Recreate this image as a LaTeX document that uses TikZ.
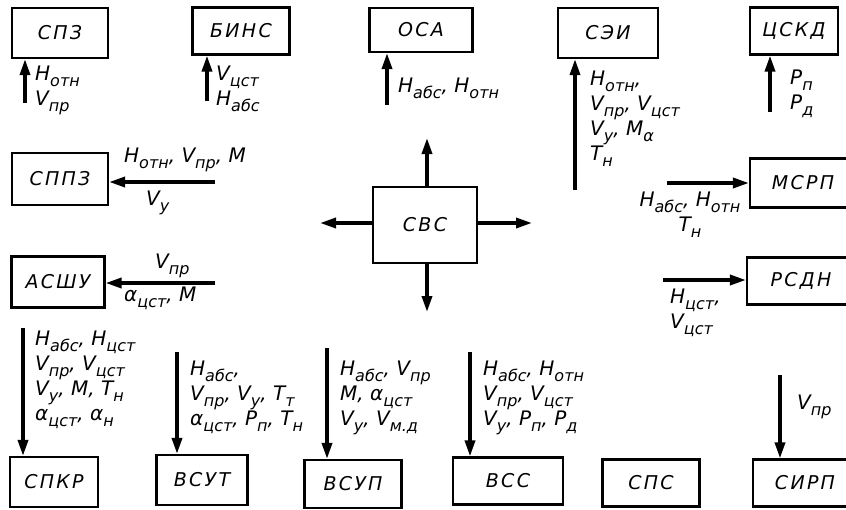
\documentclass[tikz,border=0pt]{standalone}
\usepackage{fontspec}
\setmainfont{DejaVu Sans}
\usetikzlibrary{arrows.meta,positioning}
\newcommand{\ix}[2]{#1\raisebox{-0.3em}{\fontsize{16}{16}\selectfont #2}}

\begin{document}
\begin{tikzpicture}[x=1pt,y=-1pt,
  unit/.style={draw,line width=2.2pt,inner sep=0pt,
    font=\fontsize{19}{22}\selectfont\itshape\addfontfeature{LetterSpace=12}},
  sig/.style={line width=3.4pt,-{Triangle[length=16pt,width=10pt]}},
  lbl/.style={align=left,anchor=north west,inner sep=0pt,
    font=\fontsize{20}{25}\selectfont\itshape}]

\useasboundingbox (0,0) rectangle (846,509);

% top row
\node[unit,minimum width=96,minimum height=50] (spz) at (60,33) {СПЗ};
\node[unit,minimum width=97,minimum height=47] (bins) at (241,31) {БИНС};
\node[unit,minimum width=103,minimum height=44] (osa) at (421,30) {ОСА};
\node[unit,minimum width=100,minimum height=50] (sei) at (608,33) {СЭИ};
\node[unit,minimum width=88,minimum height=47] (cskd) at (794,31) {ЦСКД};

% left and right
\node[unit,minimum width=96,minimum height=52] (sppz) at (60,179) {СППЗ};
\node[unit,minimum width=93,minimum height=51] (asshu) at (58,282) {АСШУ};
\node[unit,minimum width=106,minimum height=49] (msrp) at (803,183) {МСРП};
\node[unit,minimum width=108,minimum height=47] (rsdn) at (801,281) {РСДН};

% centre
\node[unit,minimum width=104,minimum height=76] (svs) at (425,225) {СВС};

% bottom row
\node[unit,minimum width=88,minimum height=50] (spkr) at (54,482) {СПКР};
\node[unit,minimum width=91,minimum height=50] (vsut) at (202,480) {ВСУТ};
\node[unit,minimum width=97,minimum height=48] (vsup) at (353,484) {ВСУП};
\node[unit,minimum width=110,minimum height=47] (vss) at (508,481) {ВСС};
\node[unit,minimum width=97,minimum height=47] (sps) at (651,483) {СПС};
\node[unit,minimum width=104,minimum height=47] (sirp) at (805,483) {СИРП};

% free ends
\coordinate (spz-src) at (25,103);
\coordinate (bins-src) at (207,101);
\coordinate (osa-src) at (387,105);
\coordinate (sei-src) at (575,190);
\coordinate (cskd-src) at (770,112);
\coordinate (sppz-src) at (215,182);
\coordinate (asshu-src) at (215,283);
\coordinate (msrp-src) at (667,183);
\coordinate (rsdn-src) at (663,280);
\coordinate (spkr-src) at (23,328);
\coordinate (vsut-src) at (177,352);
\coordinate (vsup-src) at (327,348);
\coordinate (vss-src) at (470,352);
\coordinate (sirp-src) at (780,375);
\coordinate (svs-up) at (427,138);
\coordinate (svs-down) at (427,312);
\coordinate (svs-left) at (320,223);
\coordinate (svs-right) at (532,223);

\draw[sig] (spz-src) -- (spz-src |- spz.south);
\draw[sig] (bins-src) -- (bins-src |- bins.south);
\draw[sig] (osa-src) -- (osa-src |- osa.south);
\draw[sig] (sei-src) -- (sei-src |- sei.south);
\draw[sig] (cskd-src) -- (cskd-src |- cskd.south);
\draw[sig] (sppz-src) -- (sppz-src -| sppz.east);
\draw[sig] (asshu-src) -- (asshu-src -| asshu.east);
\draw[sig] (msrp-src) -- (msrp-src -| msrp.west);
\draw[sig] (rsdn-src) -- (rsdn-src -| rsdn.west);
\draw[sig] (spkr-src) -- (spkr-src |- spkr.north);
\draw[sig] (vsut-src) -- (vsut-src |- vsut.north);
\draw[sig] (vsup-src) -- (vsup-src |- vsup.north);
\draw[sig] (vss-src) -- (vss-src |- vss.north);
\draw[sig] (sirp-src) -- (sirp-src |- sirp.north);
\draw[sig] (svs-up |- svs.north) -- (svs-up);
\draw[sig] (svs-down |- svs.south) -- (svs-down);
\draw[sig] (svs-left -| svs.west) -- (svs-left);
\draw[sig] (svs-right -| svs.east) -- (svs-right);

% signal labels
\node[lbl] (spz-l) at (35,66) {\ix{H}{отн}\\\ix{V}{пр}};
\node[lbl] (bins-l) at (216,66) {\ix{V}{цст}\\\ix{H}{абс}};
\node[lbl] (osa-l) at (398,78) {\ix{H}{абс}, \ix{H}{отн}};
\node[lbl] (sei-l) at (590,71) {\ix{H}{отн},\\\ix{V}{пр}, \ix{V}{цст}\\\ix{V}{y}, \ix{M}{α}\\\ix{T}{н}};
\node[lbl] (cskd-l) at (790,70) {\ix{P}{п}\\\ix{P}{д}};
\node[lbl] (sppz-a) at (124,148) {\ix{H}{отн}, \ix{V}{пр}, M};
\node[lbl] (sppz-b) at (146,191) {\ix{V}{y}};
\node[lbl] (asshu-a) at (155,254) {\ix{V}{пр}};
\node[lbl] (asshu-b) at (124,287) {\ix{α}{цст}, M};
\node[lbl,align=center,anchor=north] (msrp-l) at (690,192) {\ix{H}{абс}, \ix{H}{отн}\\\ix{T}{н}};
\node[lbl] (rsdn-l) at (670,289) {\ix{H}{цст},\\\ix{V}{цст}};
\node[lbl] (spkr-l) at (35,331) {\ix{H}{абс}, \ix{H}{цст}\\\ix{V}{пр}, \ix{V}{цст}\\\ix{V}{y}, M, \ix{T}{н}\\\ix{α}{цст}, \ix{α}{н}};
\node[lbl] (vsut-l) at (190,361) {\ix{H}{абс},\\\ix{V}{пр}, \ix{V}{y}, \ix{T}{т}\\\ix{α}{цст}, \ix{P}{п}, \ix{T}{н}};
\node[lbl] (vsup-l) at (340,361) {\ix{H}{абс}, \ix{V}{пр}\\M, \ix{α}{цст}\\\ix{V}{y}, \ix{V}{м.д}};
\node[lbl] (vss-l) at (483,361) {\ix{H}{абс}, \ix{H}{отн}\\\ix{V}{пр}, \ix{V}{цст}\\\ix{V}{y}, \ix{P}{п}, \ix{P}{д}};
\node[lbl] (sirp-l) at (797,395) {\ix{V}{пр}};
\end{tikzpicture}
\end{document}
